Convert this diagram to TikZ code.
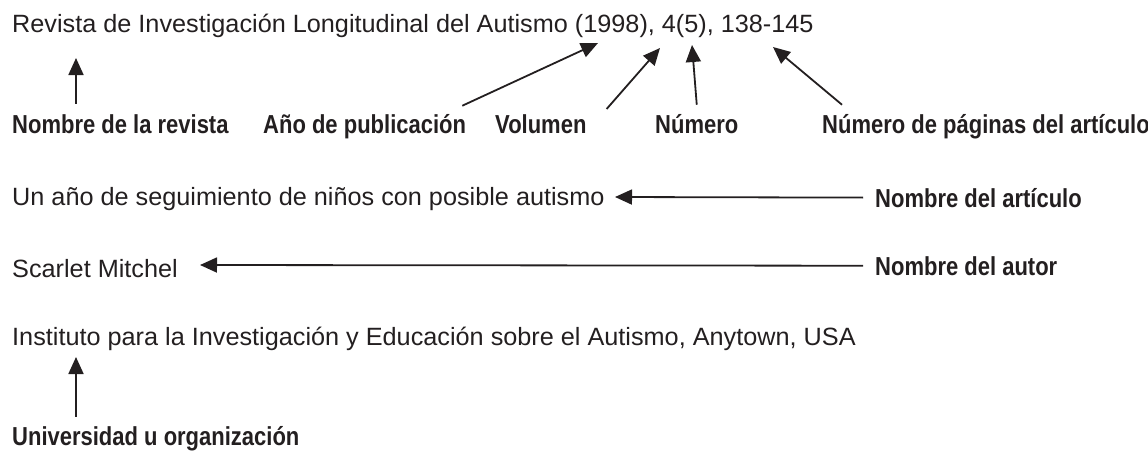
\documentclass[tikz,border=0pt]{standalone}
\usepackage{fontspec}
\usetikzlibrary{positioning}
\usetikzlibrary{arrows.meta}
\newfontfamily\regfont{Liberation Sans}[FakeStretch=1.01]
\newfontfamily\labfont{Liberation Sans}[FakeStretch=0.846]
\definecolor{ink}{RGB}{35,31,32}

\begin{document}
\begin{tikzpicture}[x=1pt,y=-1pt,
	txt/.style={anchor=base west, inner sep=0pt, text=ink, font=\regfont\fontsize{25}{29}\selectfont},
	lab/.style={anchor=base west, inner sep=0pt, text=ink, font=\labfont\bfseries\fontsize{26}{31}\selectfont},
	arr/.style={draw=ink, line width=1.8pt, -{Triangle[length=17pt,width=15pt]}}]
	\useasboundingbox (0,0) rectangle (1148,451);

	% Lines of the citation
	\node[txt] (cita) at (12,32) {Revista de Investigación Longitudinal del Autismo (1998), 4(5), 138-145};
	\node[txt] (titulo) at (12,205) {Un año de seguimiento de niños con posible autismo};
	\node[txt] (autor) at (12,277) {Scarlet Mitchel};
	\node[txt] (inst) at (12,345) {Instituto para la Investigación y Educación sobre el Autismo, Anytown, USA};

	% Bold labels under the first line
	\foreach \nm/\x/\t in {rev/12/Nombre de la revista, ano/263/Año de publicación, vol/495/Volumen, num/655/Número, pag/822/Número de páginas del artículo}
		{\node[lab] (l\nm) at (\x,133) {\t};}
	\node[lab] (lart) at (875,207) {Nombre del artículo};
	\node[lab] (laut) at (875,275) {Nombre del autor};
	\node[lab] (luni) at (12,445) {Universidad u organización};

	% Where the arrows point
	\coordinate (trev) at (76,58);
	\coordinate (tano) at (598,43);
	\coordinate (tvol) at (660,48);
	\coordinate (tnum) at (692,45);
	\coordinate (tpag) at (773,47);
	\coordinate (tart) at (615,197);
	\coordinate (taut) at (200,265);
	\coordinate (tuni) at (76,357);

	\draw[arr] ([xshift=64pt,yshift=10pt]lrev.north west) -- (trev);
	\draw[arr] ([xshift=-4pt,yshift=8pt]lano.north east) -- (tano);
	\draw[arr] ([xshift=20pt,yshift=5pt]lvol.north east) -- (tvol);
	\draw[arr] ([yshift=9pt]lnum.north) -- (tnum);
	\draw[arr] ([xshift=20pt,yshift=9pt]lpag.north west) -- (tpag);
	\draw[arr] ([xshift=-12pt]lart.west) -- (tart);
	\draw[arr] ([xshift=-12pt]laut.west) -- (taut);
	\draw[arr] ([xshift=64pt,yshift=9pt]luni.north west) -- (tuni);
\end{tikzpicture}
\end{document}
